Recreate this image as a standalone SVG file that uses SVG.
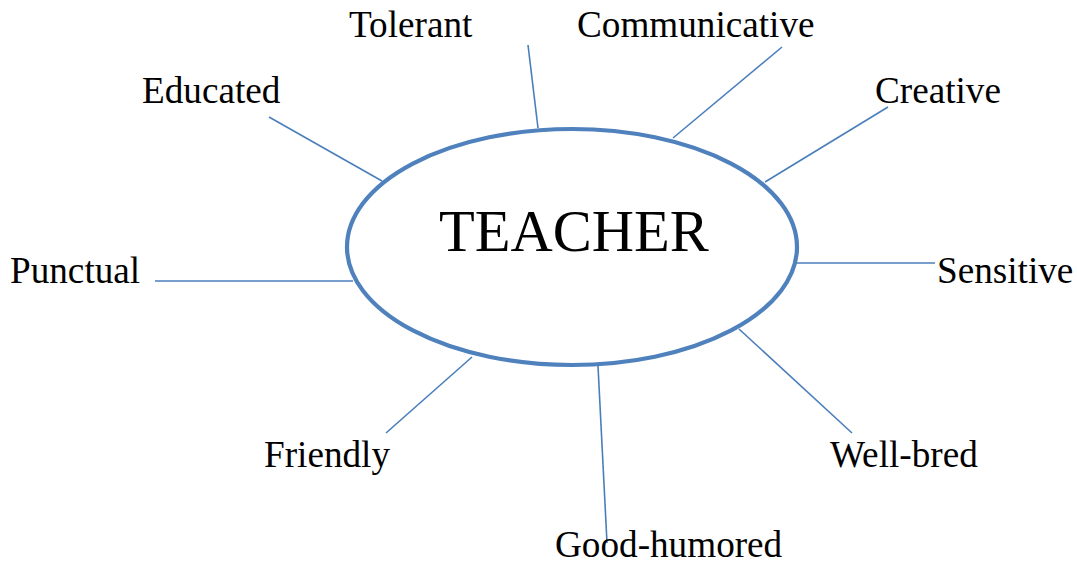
<svg xmlns="http://www.w3.org/2000/svg" width="1077" height="564" viewBox="0 0 1077 564">
  <style>
    .lbl { font-family: "Liberation Serif", "Times New Roman", serif; font-size: 37.2px; fill: #000; }
    .title { font-family: "Liberation Serif", "Times New Roman", serif; font-size: 58.5px; fill: #000; }
    .spoke { stroke: #4a7ebb; stroke-width: 1.6; fill: none; }
    .hub { stroke: #4f81bd; stroke-width: 4.2; fill: #fff; }
  </style>
  <rect width="1077" height="564" fill="#fff"/>

  <!-- spokes from the central ellipse to each trait -->
  <g id="connectors">
    <line class="spoke" x1="528" y1="45" x2="538" y2="128"/>
    <line class="spoke" x1="782" y1="47" x2="673" y2="138"/>
    <line class="spoke" x1="888" y1="107" x2="765" y2="182"/>
    <line class="spoke" x1="792" y1="263" x2="935" y2="263"/>
    <line class="spoke" x1="155" y1="281" x2="353" y2="281"/>
    <line class="spoke" x1="269" y1="117" x2="382" y2="181"/>
    <line class="spoke" x1="472" y1="357" x2="386" y2="433"/>
    <line class="spoke" x1="598" y1="366" x2="607" y2="543"/>
    <line class="spoke" x1="739" y1="329" x2="852" y2="433"/>
  </g>

  <g id="teacher">
    <ellipse class="hub" cx="572" cy="247" rx="225" ry="118"/>
    <text class="title" x="439" y="251">TEACHER</text>
  </g>

  <g id="tolerant"><text class="lbl" x="349" y="37">Tolerant</text></g>
  <g id="communicative"><text class="lbl" x="577" y="37">Communicative</text></g>
  <g id="educated"><text class="lbl" x="142" y="103">Educated</text></g>
  <g id="creative"><text class="lbl" x="875" y="103">Creative</text></g>
  <g id="punctual"><text class="lbl" x="10" y="283">Punctual</text></g>
  <g id="sensitive"><text class="lbl" x="937" y="283">Sensitive</text></g>
  <g id="friendly"><text class="lbl" x="264" y="467">Friendly</text></g>
  <g id="well-bred"><text class="lbl" x="830" y="467">Well-bred</text></g>
  <g id="good-humored"><text class="lbl" x="555" y="557">Good-humored</text></g>
</svg>
